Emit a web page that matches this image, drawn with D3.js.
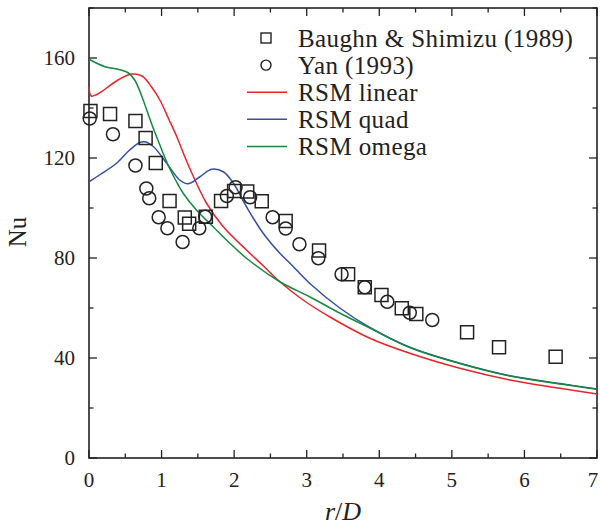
<!DOCTYPE html>
<html>
<head>
<meta charset="utf-8">
<script src="https://cdn.jsdelivr.net/npm/d3@7"></script>
<style>
  html, body { margin: 0; padding: 0; background: #fff; }
  svg { display: block; }
  text { font-family: "Liberation Serif", "DejaVu Serif", serif; fill: #222; }
</style>
</head>
<body>
<svg id="chart" width="600" height="526"></svg>
<script>
// Measured data: Baughn & Shimizu (1989)
const baughnX  = [0.02, 0.29, 0.64, 0.78, 0.92, 1.11, 1.32, 1.38, 1.61, 1.82, 2.0, 2.18, 2.38, 2.71, 3.17, 3.57, 3.80, 4.03, 4.31, 4.51, 5.21, 5.65, 6.43];
const baughnNu = [138.8, 137.6, 134.8, 128, 118, 102.8, 96.2, 93.7, 96.5, 102.8, 106.8, 106.6, 102.7, 94.8, 83, 73.5, 68.3, 65.2, 59.9, 57.6, 50.3, 44.3, 40.5];

// Measured data: Yan (1993)
const yanX  = [0.01, 0.33, 0.64, 0.79, 0.83, 0.96, 1.08, 1.29, 1.52, 1.60, 1.90, 2.02, 2.22, 2.53, 2.71, 2.90, 3.16, 3.48, 3.80, 4.11, 4.42, 4.73];
const yanNu = [135.8, 129.5, 117, 107.8, 103.9, 96.3, 91.9, 86.4, 91.9, 96.5, 104.8, 108.3, 104.3, 96.3, 91.8, 85.5, 79.9, 73.5, 68.3, 62.5, 58.1, 55.2];

// RSM linear
const linearX  = [0, 0.03, 0.1, 0.22, 0.4, 0.59, 0.73, 0.86, 0.98, 1.1, 1.21, 1.32, 1.44, 1.62, 1.85, 2.17, 2.4, 2.63, 2.95, 3.32, 3.87, 4.42, 5.11, 5.80, 6.49, 7.0];
const linearNu = [148.5, 144.8, 145.3, 147.5, 151.2, 153.6, 152.8, 148.5, 143, 135.5, 128.5, 120.5, 112.5, 101.9, 92.5, 83.2, 76.9, 70.5, 63.2, 56.4, 47.9, 41.9, 35.9, 31.2, 27.9, 25.6];

// RSM quad
const quadX  = [0, 0.15, 0.38, 0.56, 0.70, 0.77, 0.89, 1.07, 1.25, 1.37, 1.53, 1.69, 1.85, 1.99, 2.17, 2.40, 2.63, 2.77, 3.04, 3.46, 3.87, 4.42, 5.11, 5.80, 6.49, 7.0];
const quadNu = [110.5, 113.3, 117.9, 123.2, 126.2, 126.5, 124.5, 117.9, 111.2, 109.7, 112.5, 115.5, 114.5, 109.9, 100.5, 89.9, 81.9, 77.9, 69.9, 59.9, 52.2, 44.3, 37.9, 32.9, 29.8, 27.6];

// RSM omega
const omegaX  = [0, 0.22, 0.40, 0.54, 0.63, 0.73, 0.86, 1.0, 1.1, 1.2, 1.3, 1.48, 1.71, 1.94, 2.17, 2.63, 3.04, 3.46, 3.87, 4.42, 5.11, 5.80, 6.49, 7.0];
const omegaNu = [159.5, 156.5, 155.5, 154.1, 151.2, 144.5, 133.9, 123.5, 116.5, 110.8, 105.8, 99.2, 92.5, 85.9, 79.9, 70.5, 64.5, 57.9, 52, 44.2, 37.8, 32.8, 29.6, 27.5];

// Axis ticks
const xTickLabels = [0, 1, 2, 3, 4, 5, 6, 7];
const yTickLabels = [0, 40, 80, 120, 160];

const svg = d3.select("#chart");
const plotL = 89, plotR = 597, plotT = 8, plotB = 458;

const x = d3.scaleLinear().domain([0, 7]).range([plotL, plotR]);
const y = d3.scaleLinear().domain([0, 180]).range([plotB, plotT]);

const ink = "#222";

// Ticks (inward, on all four sides)
const tickG = svg.append("g").attr("stroke", ink).attr("stroke-width", 1.3);
d3.range(0, 7.01, 0.5).forEach(v => {
  const major = Math.abs(v - Math.round(v)) < 1e-9;
  const len = major ? 8 : 4.5;
  tickG.append("line").attr("x1", x(v)).attr("x2", x(v)).attr("y1", plotB).attr("y2", plotB - len);
  tickG.append("line").attr("x1", x(v)).attr("x2", x(v)).attr("y1", plotT).attr("y2", plotT + len);
});
d3.range(0, 180.01, 20).forEach(v => {
  const major = v % 40 === 0;
  const len = major ? 8 : 4.5;
  tickG.append("line").attr("x1", plotL).attr("x2", plotL + len).attr("y1", y(v)).attr("y2", y(v));
  tickG.append("line").attr("x1", plotR).attr("x2", plotR - len).attr("y1", y(v)).attr("y2", y(v));
});

// Frame
svg.append("rect")
  .attr("x", plotL).attr("y", plotT)
  .attr("width", plotR - plotL).attr("height", plotB - plotT)
  .attr("fill", "none").attr("stroke", ink).attr("stroke-width", 1.6);

// Tick labels (the last one kept inside the page edge)
svg.append("g").selectAll("text").data(xTickLabels).join("text")
  .attr("x", d => Math.min(x(d), 593)).attr("y", 487)
  .attr("text-anchor", "middle").attr("font-size", 21)
  .text(d => d);
svg.append("g").selectAll("text").data(yTickLabels).join("text")
  .attr("x", 75).attr("y", d => y(d)).attr("dy", "0.35em")
  .attr("text-anchor", "end").attr("font-size", 21)
  .text(d => d);

// Axis titles
const xt = svg.append("text").attr("x", 343).attr("y", 520)
  .attr("text-anchor", "middle").attr("font-size", 26);
xt.append("tspan").attr("font-style", "italic").text("r");
xt.append("tspan").text("/");
xt.append("tspan").attr("font-style", "italic").text("D");

svg.append("text")
  .attr("transform", "translate(26,232) rotate(-90)")
  .attr("text-anchor", "middle").attr("font-size", 25)
  .text("Nu");

// Model curves
const line = d3.line().x(d => x(d[0])).y(d => y(d[1])).curve(d3.curveCatmullRom.alpha(0.5));
const series = [
  { name: "RSM linear", xs: linearX, ys: linearNu, color: "#e8242b" },
  { name: "RSM quad",   xs: quadX,   ys: quadNu,   color: "#3451a1" },
  { name: "RSM omega",  xs: omegaX,  ys: omegaNu,  color: "#17883f" }
];
series.forEach(s => {
  svg.append("path")
    .datum(d3.zip(s.xs, s.ys))
    .attr("d", line)
    .attr("fill", "none")
    .attr("stroke", s.color)
    .attr("stroke-width", 1.5);
});

// Experimental points
const sq = 13;
svg.append("g").selectAll("rect").data(d3.zip(baughnX, baughnNu)).join("rect")
  .attr("x", d => x(d[0]) - sq / 2).attr("y", d => y(d[1]) - sq / 2)
  .attr("width", sq).attr("height", sq)
  .attr("fill", "none").attr("stroke", ink).attr("stroke-width", 1.5);
svg.append("g").selectAll("circle").data(d3.zip(yanX, yanNu)).join("circle")
  .attr("cx", d => x(d[0])).attr("cy", d => y(d[1])).attr("r", 6.5)
  .attr("fill", "none").attr("stroke", ink).attr("stroke-width", 1.5);

// Legend
const legendRows = [
  { label: "Baughn & Shimizu (1989)", kind: "square" },
  { label: "Yan (1993)", kind: "circle" },
  { label: "RSM linear", kind: "line", color: series[0].color },
  { label: "RSM quad", kind: "line", color: series[1].color },
  { label: "RSM omega", kind: "line", color: series[2].color }
];
const lg = svg.append("g");
legendRows.forEach((r, i) => {
  const cy = 38 + i * 27.1;
  if (r.kind === "square") {
    lg.append("rect").attr("x", 266 - 5).attr("y", cy - 5).attr("width", 10).attr("height", 10)
      .attr("fill", "none").attr("stroke", ink).attr("stroke-width", 1.4);
  } else if (r.kind === "circle") {
    lg.append("circle").attr("cx", 266).attr("cy", cy).attr("r", 5)
      .attr("fill", "none").attr("stroke", ink).attr("stroke-width", 1.4);
  } else {
    lg.append("line").attr("x1", 247).attr("x2", 287).attr("y1", cy).attr("y2", cy)
      .attr("stroke", r.color).attr("stroke-width", 1.5);
  }
  lg.append("text").attr("x", 298).attr("y", cy).attr("dy", "0.35em")
    .attr("font-size", 25).attr("letter-spacing", 0.4).text(r.label);
});
</script>
</body>
</html>
